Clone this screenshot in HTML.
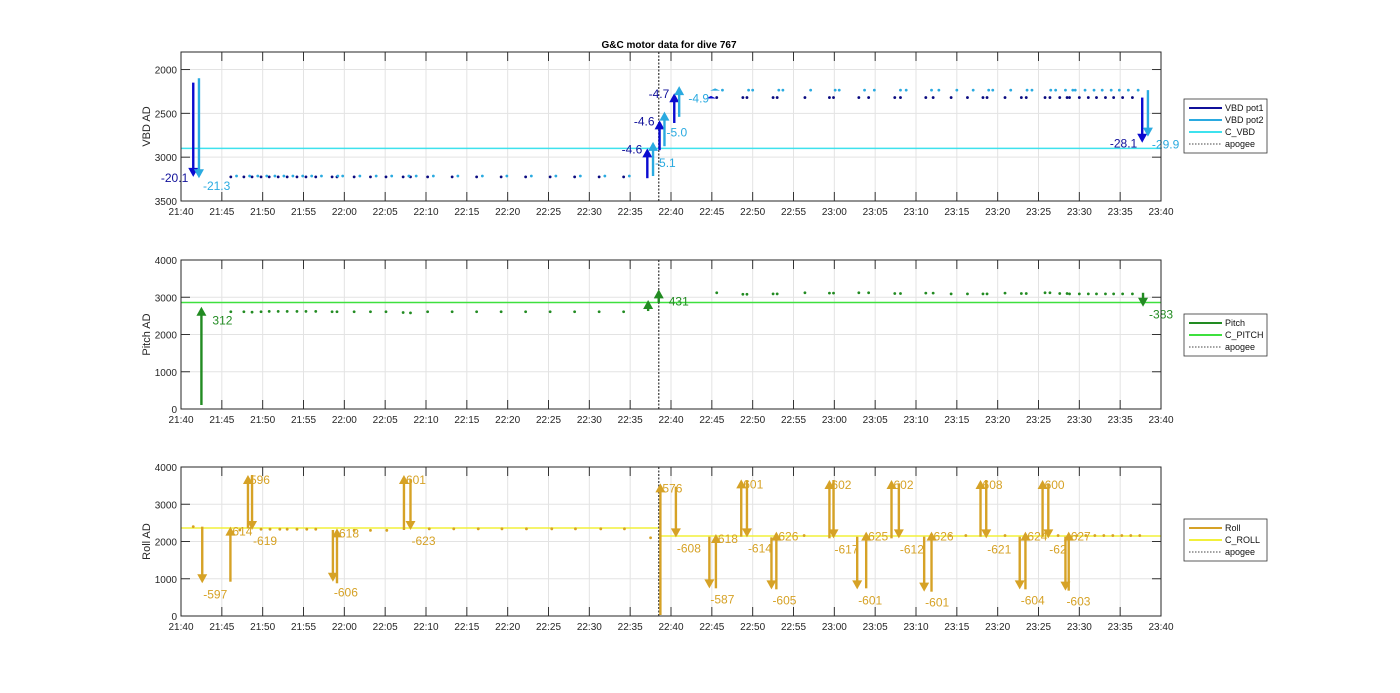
<!DOCTYPE html>
<html><head><meta charset="utf-8"><style>
body{margin:0;background:#fff;}
svg{display:block;font-family:"Liberation Sans",Arial,sans-serif;}
</style></head><body>
<svg id="fig" width="1400" height="693" viewBox="0 0 1400 693" xmlns="http://www.w3.org/2000/svg">
<rect width="1400" height="693" fill="#fff"/>
<text x="669" y="48" font-size="10" font-weight="bold" text-anchor="middle" fill="#000">G&amp;C motor data for dive 767</text>
<g id="p1"></g>
<g id="p2"></g>
<g id="p3"></g>
</svg>
<script>
// ---- shared data (minutes since 21:40) ----
const xTickLabels=["21:40","21:45","21:50","21:55","22:00","22:05","22:10","22:15","22:20","22:25","22:30","22:35","22:40","22:45","22:50","22:55","23:00","23:05","23:10","23:15","23:20","23:25","23:30","23:35","23:40"];
const apogeeTime=58.5;
const dotTimes=[6.1,7.7,8.7,9.8,10.8,11.9,13.0,14.2,15.3,16.5,18.5,19.1,21.2,23.2,25.1,27.2,28.1,30.2,33.2,36.2,39.2,42.2,45.2,48.2,51.2,54.2,65.6,68.8,69.3,72.5,73.0,76.4,79.4,79.9,83.0,84.2,87.4,88.1,91.2,92.1,94.3,96.3,98.2,98.7,100.9,102.9,103.5,105.8,106.4,107.6,108.5,108.8,110.0,111.1,112.1,113.2,114.2,115.3,116.5];
// VBD
const vbdTicks=[2000,2500,3000,3500];
const pot1Values=[3225,3225,3225,3225,3225,3225,3225,3225,3225,3225,3225,3225,3225,3225,3225,3225,3225,3225,3225,3225,3225,3225,3225,3225,3225,3225,2320,2320,2320,2320,2320,2320,2320,2320,2320,2320,2320,2320,2320,2320,2320,2320,2320,2320,2320,2320,2320,2320,2320,2320,2320,2320,2320,2320,2320,2320,2320,2320,2320];
const pot2Values=[3215,3215,3215,3215,3215,3215,3215,3215,3215,3215,3215,3215,3215,3215,3215,3215,3215,3215,3215,3215,3215,3215,3215,3215,3215,3215,2235,2235,2235,2235,2235,2235,2235,2235,2235,2235,2235,2235,2235,2235,2235,2235,2235,2235,2235,2235,2235,2235,2235,2235,2235,2235,2235,2235,2235,2235,2235,2235,2235];
const pot2Offset=0.7;
const cVbd=2900;
const pot1ArrowT=[1.5,57.1,58.6,60.4,64.9,117.7];
const pot1ArrowFrom=[2150,3240,2920,2610,2330,2320];
const pot1ArrowTo=[3225,2900,2580,2270,2300,2835];
const pot1ArrowLabel=["-20.1","-4.6","-4.6","-4.7","","-28.1"];
const pot2ArrowT=[2.2,57.8,59.2,61.0,65.4,118.4];
const pot2ArrowFrom=[2100,3215,2875,2540,2240,2235];
const pot2ArrowTo=[3240,2825,2480,2190,2215,2765];
const pot2ArrowLabel=["-21.3","-5.1","-5.0","","-4.9","-29.9"];
// Pitch
const pitchTicks=[0,1000,2000,3000,4000];
const pitchValues=[2610,2610,2600,2610,2620,2620,2620,2620,2620,2620,2610,2610,2610,2610,2610,2590,2580,2610,2610,2610,2610,2610,2610,2610,2610,2610,3120,3080,3080,3090,3090,3120,3110,3110,3120,3120,3100,3100,3110,3110,3090,3090,3090,3090,3110,3100,3100,3120,3120,3100,3100,3090,3090,3090,3090,3090,3090,3090,3090];
const cPitch=2860;
const pitchArrowT=[2.5,57.2,58.5,117.8];
const pitchArrowFrom=[107,2630,2850,3120];
const pitchArrowTo=[2746,2926,3213,2746];
const pitchArrowLabel=["312","","431","-383"];
// Roll
const rollTicks=[0,1000,2000,3000,4000];
const rollDotTimes=[1.5,7.2,9.8,10.9,12.1,13.0,14.2,15.4,16.5,21.2,23.2,25.2,30.4,33.4,36.4,39.3,42.3,45.4,48.3,51.4,54.3,57.5,76.3,94.2,96.1,100.9,107.4,109.7,110.8,111.9,113.0,114.1,115.2,116.3,117.4];
const rollDotValues=[2398,2310,2330,2330,2330,2330,2330,2330,2330,2300,2300,2300,2340,2340,2340,2340,2340,2340,2340,2340,2340,2100,2160,2160,2160,2160,2160,2160,2160,2160,2160,2160,2160,2160,2160];
const cRollBefore=2362, cRollAfter=2148;
const rollArrowT=[2.6,6.05,8.2,8.7,18.6,19.1,27.3,28.1,58.7,60.6,64.7,65.5,68.6,69.3,72.3,72.9,79.4,79.9,82.8,83.9,87.0,87.9,91.0,91.9,97.9,98.6,102.7,103.4,105.5,106.2,108.3,108.7];
const rollArrowFrom=[2398,921,2354,3785,2309,878,2309,3678,27,3472,2129,743,2129,3633,2112,716,2085,3651,2129,743,2085,3562,2129,653,2129,3651,2129,716,2129,3562,2129,680];
const rollArrowTo=[878,2398,3785,2309,921,2354,3785,2309,3562,2112,743,2201,3669,2112,716,2264,3651,2085,716,2264,3651,2085,653,2264,3651,2085,716,2264,3651,2085,680,2264];
const rollArrowLabel=["-597","614","596","-619","-606","618","601","-623","576","-608","-587","618","601","-614","-605","626","602","-617","-601","625","602","-612","-601","626","608","-621","-604","624","600","-62","-603","627"];

const NS="http://www.w3.org/2000/svg";
function mk(parent,tag,attrs){const e=document.createElementNS(NS,tag);for(const k in attrs)e.setAttribute(k,attrs[k]);parent.appendChild(e);return e;}
const X0=181,X1=1161;
function xs(t){return X0+(t/120)*(X1-X0);}

function axes(g,top,bot,ymin,ymax,rev,yTicks,yTitle){
  const ys=v=>rev? top+(v-ymin)/(ymax-ymin)*(bot-top) : bot-(v-ymin)/(ymax-ymin)*(bot-top);
  mk(g,'rect',{x:X0,y:top,width:X1-X0,height:bot-top,fill:'#fff'});
  xTickLabels.forEach((lab,i)=>{
    const x=xs(i*5);
    const gl=mk(g,'line',{x1:x,x2:x,y1:top,y2:bot,stroke:'#e3e3e3','stroke-width':1});
    
    
    mk(g,'line',{x1:x,x2:x,y1:bot,y2:bot-9,stroke:'#333','stroke-width':1});
    mk(g,'line',{x1:x,x2:x,y1:top,y2:top+9,stroke:'#333','stroke-width':1});
    const t=mk(g,'text',{x:x,y:bot+14,'font-size':10,'text-anchor':'middle',fill:'#262626'});
    t.textContent=lab;
    
    
  });
  yTicks.forEach(v=>{
    const y=ys(v);
    const gl=mk(g,'line',{x1:X0,x2:X1,y1:y,y2:y,stroke:'#e3e3e3','stroke-width':1});
    
    
    mk(g,'line',{x1:X0,x2:X0+9,y1:y,y2:y,stroke:'#333'});
    mk(g,'line',{x1:X1,x2:X1-9,y1:y,y2:y,stroke:'#333'});
    const t=mk(g,'text',{x:X0-4,y:y+4,'font-size':10,'text-anchor':'end',fill:'#262626'});
    t.textContent=v;
    
    
  });
  const yt=mk(g,'text',{x:0,y:0,'font-size':11,'text-anchor':'middle',fill:'#262626',transform:`translate(150,${(top+bot)/2}) rotate(-90)`});
  yt.textContent=yTitle;
  
  
  return ys;
}
function frame(g,top,bot){
  const r=mk(g,'rect',{x:X0,y:top,width:X1-X0,height:bot-top,fill:'none',stroke:'#262626','stroke-width':1});
  
  
}
function hline(g,y,x1,x2,color,w){return mk(g,'line',{x1:x1,x2:x2,y1:y,y2:y,stroke:color,'stroke-width':w});}
function apogee(g,top,bot){
  const x=xs(apogeeTime);
  const l=mk(g,'line',{x1:x,x2:x,y1:top,y2:bot,stroke:'#444','stroke-width':1.3,'stroke-dasharray':'2,1.5'});
  
  
}
function dot(g,x,y,color,name){
  const c=mk(g,'circle',{cx:x,cy:y,r:1.4,fill:color});
  
  
}
function arrow(g,x,y0,y1,color,name){
  const dir=y1<y0?-1:1;
  const hl=Math.min(9,Math.abs(y1-y0));
  const a=mk(g,'g',{});
  
  
  mk(a,'line',{x1:x,x2:x,y1:y0,y2:y1-dir*hl*0.5,stroke:color,'stroke-width':2.4});
  mk(a,'polygon',{points:`${x-5},${y1-dir*hl} ${x+5},${y1-dir*hl} ${x},${y1}`,fill:color});
}
function label(g,x,y,txt,color,anchor,size,name){
  if(!txt)return;
  const t=mk(g,'text',{x:x,y:y,'font-size':size||12,'text-anchor':anchor||'start',fill:color});
  t.textContent=txt;
  
  
}
function legend(g,x,y,entries){
  const h=entries.length*12+6;
  const box=mk(g,'rect',{x:x,y:y,width:83,height:h,fill:'#fff',stroke:'#333','stroke-width':0.8});
  
  
  entries.forEach((e,i)=>{
    const yy=y+9+i*12;
    const l=mk(g,'line',{x1:x+5,x2:x+38,y1:yy,y2:yy,stroke:e[1],'stroke-width':e[2]?1:2,'stroke-dasharray':e[2]?'1.5,1.5':'none'});
    
    
    const t=mk(g,'text',{x:x+41,y:yy+3,'font-size':9,fill:'#111'});
    t.textContent=e[0];
    
    
  });
}

const C1='#10109a',C1A='#0a0ad0',C2='#2aaae0',CC='#3ee2ee';
const CP='#228b22',CCP='#3ee03e';
const CR='#d6a226',CCR='#f2f03a';

// ---- Panel 1: VBD ----
{
  const g=document.getElementById('p1');
  const ys=axes(g,52,201,1800,3500,true,vbdTicks,'VBD AD');
  hline(g,ys(cVbd),X0,X1,CC,1.5);
  apogee(g,52,201);
  dotTimes.forEach((t,i)=>{dot(g,xs(t),ys(pot1Values[i]),'#0a0a80','vbd-pot1-point');});
  dotTimes.forEach((t,i)=>{dot(g,xs(t+pot2Offset),ys(pot2Values[i]),C2,'vbd-pot2-point');});
  pot1ArrowT.forEach((t,i)=>{
    const x=xs(t),y1=ys(pot1ArrowTo[i]);
    arrow(g,x,ys(pot1ArrowFrom[i]),y1,C1A,'vbd-pot1-arrow');
    label(g,x-5,y1+5,pot1ArrowLabel[i],C1,'end',12,'vbd-pot1-label');
  });
  pot2ArrowT.forEach((t,i)=>{
    const x=xs(t),y0=ys(pot2ArrowFrom[i]),y1=ys(pot2ArrowTo[i]);
    arrow(g,x,y0,y1,C2,'vbd-pot2-arrow');
    if(pot2ArrowLabel[i]==='-4.9') label(g,x-6,y1+14,pot2ArrowLabel[i],C2,'end',12,'vbd-pot2-label');
    else if(y1<y0) label(g,x+2,y1+25,pot2ArrowLabel[i],C2,'start',12,'vbd-pot2-label');
    else label(g,x+4,y1+12,pot2ArrowLabel[i],C2,'start',12,'vbd-pot2-label');
  });
  frame(g,52,201);
  legend(g,1184,99,[['VBD pot1',C1],['VBD pot2',C2],['C_VBD',CC],['apogee','#444',true]]);
}
// ---- Panel 2: Pitch ----
{
  const g=document.getElementById('p2');
  const ys=axes(g,260,409,0,4000,false,pitchTicks,'Pitch AD');
  hline(g,ys(cPitch),X0,X1,CCP,1.5);
  apogee(g,260,409);
  dotTimes.forEach((t,i)=>{dot(g,xs(t),ys(pitchValues[i]),CP,'pitch-point');});
  pitchArrowT.forEach((t,i)=>{
    const x=xs(t),y0=ys(pitchArrowFrom[i]),y1=ys(pitchArrowTo[i]);
    arrow(g,x,y0,y1,CP,'pitch-arrow');
    if(i===0) label(g,x+11,y1+18,pitchArrowLabel[i],CP,'start',12,'pitch-label');
    else if(y1<y0) label(g,x+10,y1+16,pitchArrowLabel[i],CP,'start',12,'pitch-label');
    else label(g,x+6,y1+12,pitchArrowLabel[i],CP,'start',12,'pitch-label');
  });
  frame(g,260,409);
  legend(g,1184,314,[['Pitch',CP],['C_PITCH',CCP],['apogee','#444',true]]);
}
// ---- Panel 3: Roll ----
{
  const g=document.getElementById('p3');
  const ys=axes(g,467,616,0,4000,false,rollTicks,'Roll AD');
  hline(g,ys(cRollBefore),X0,xs(apogeeTime),CCR,1.5);
  hline(g,ys(cRollAfter),xs(apogeeTime),X1,CCR,1.5);
  apogee(g,467,616);
  rollDotTimes.forEach((t,i)=>{dot(g,xs(t),ys(rollDotValues[i]),CR,'roll-point');});
  rollArrowT.forEach((t,i)=>{
    const x=xs(t),y0=ys(rollArrowFrom[i]),y1=ys(rollArrowTo[i]);
    arrow(g,x,y0,y1,CR,'roll-arrow');
    if(y1<y0) label(g,x+2,y1+9,rollArrowLabel[i],CR,'start',12,'roll-label');
    else label(g,x+1,y1+15,rollArrowLabel[i],CR,'start',12,'roll-label');
  });
  frame(g,467,616);
  legend(g,1184,519,[['Roll',CR],['C_ROLL',CCR],['apogee','#444',true]]);
}
</script>
</body></html>
